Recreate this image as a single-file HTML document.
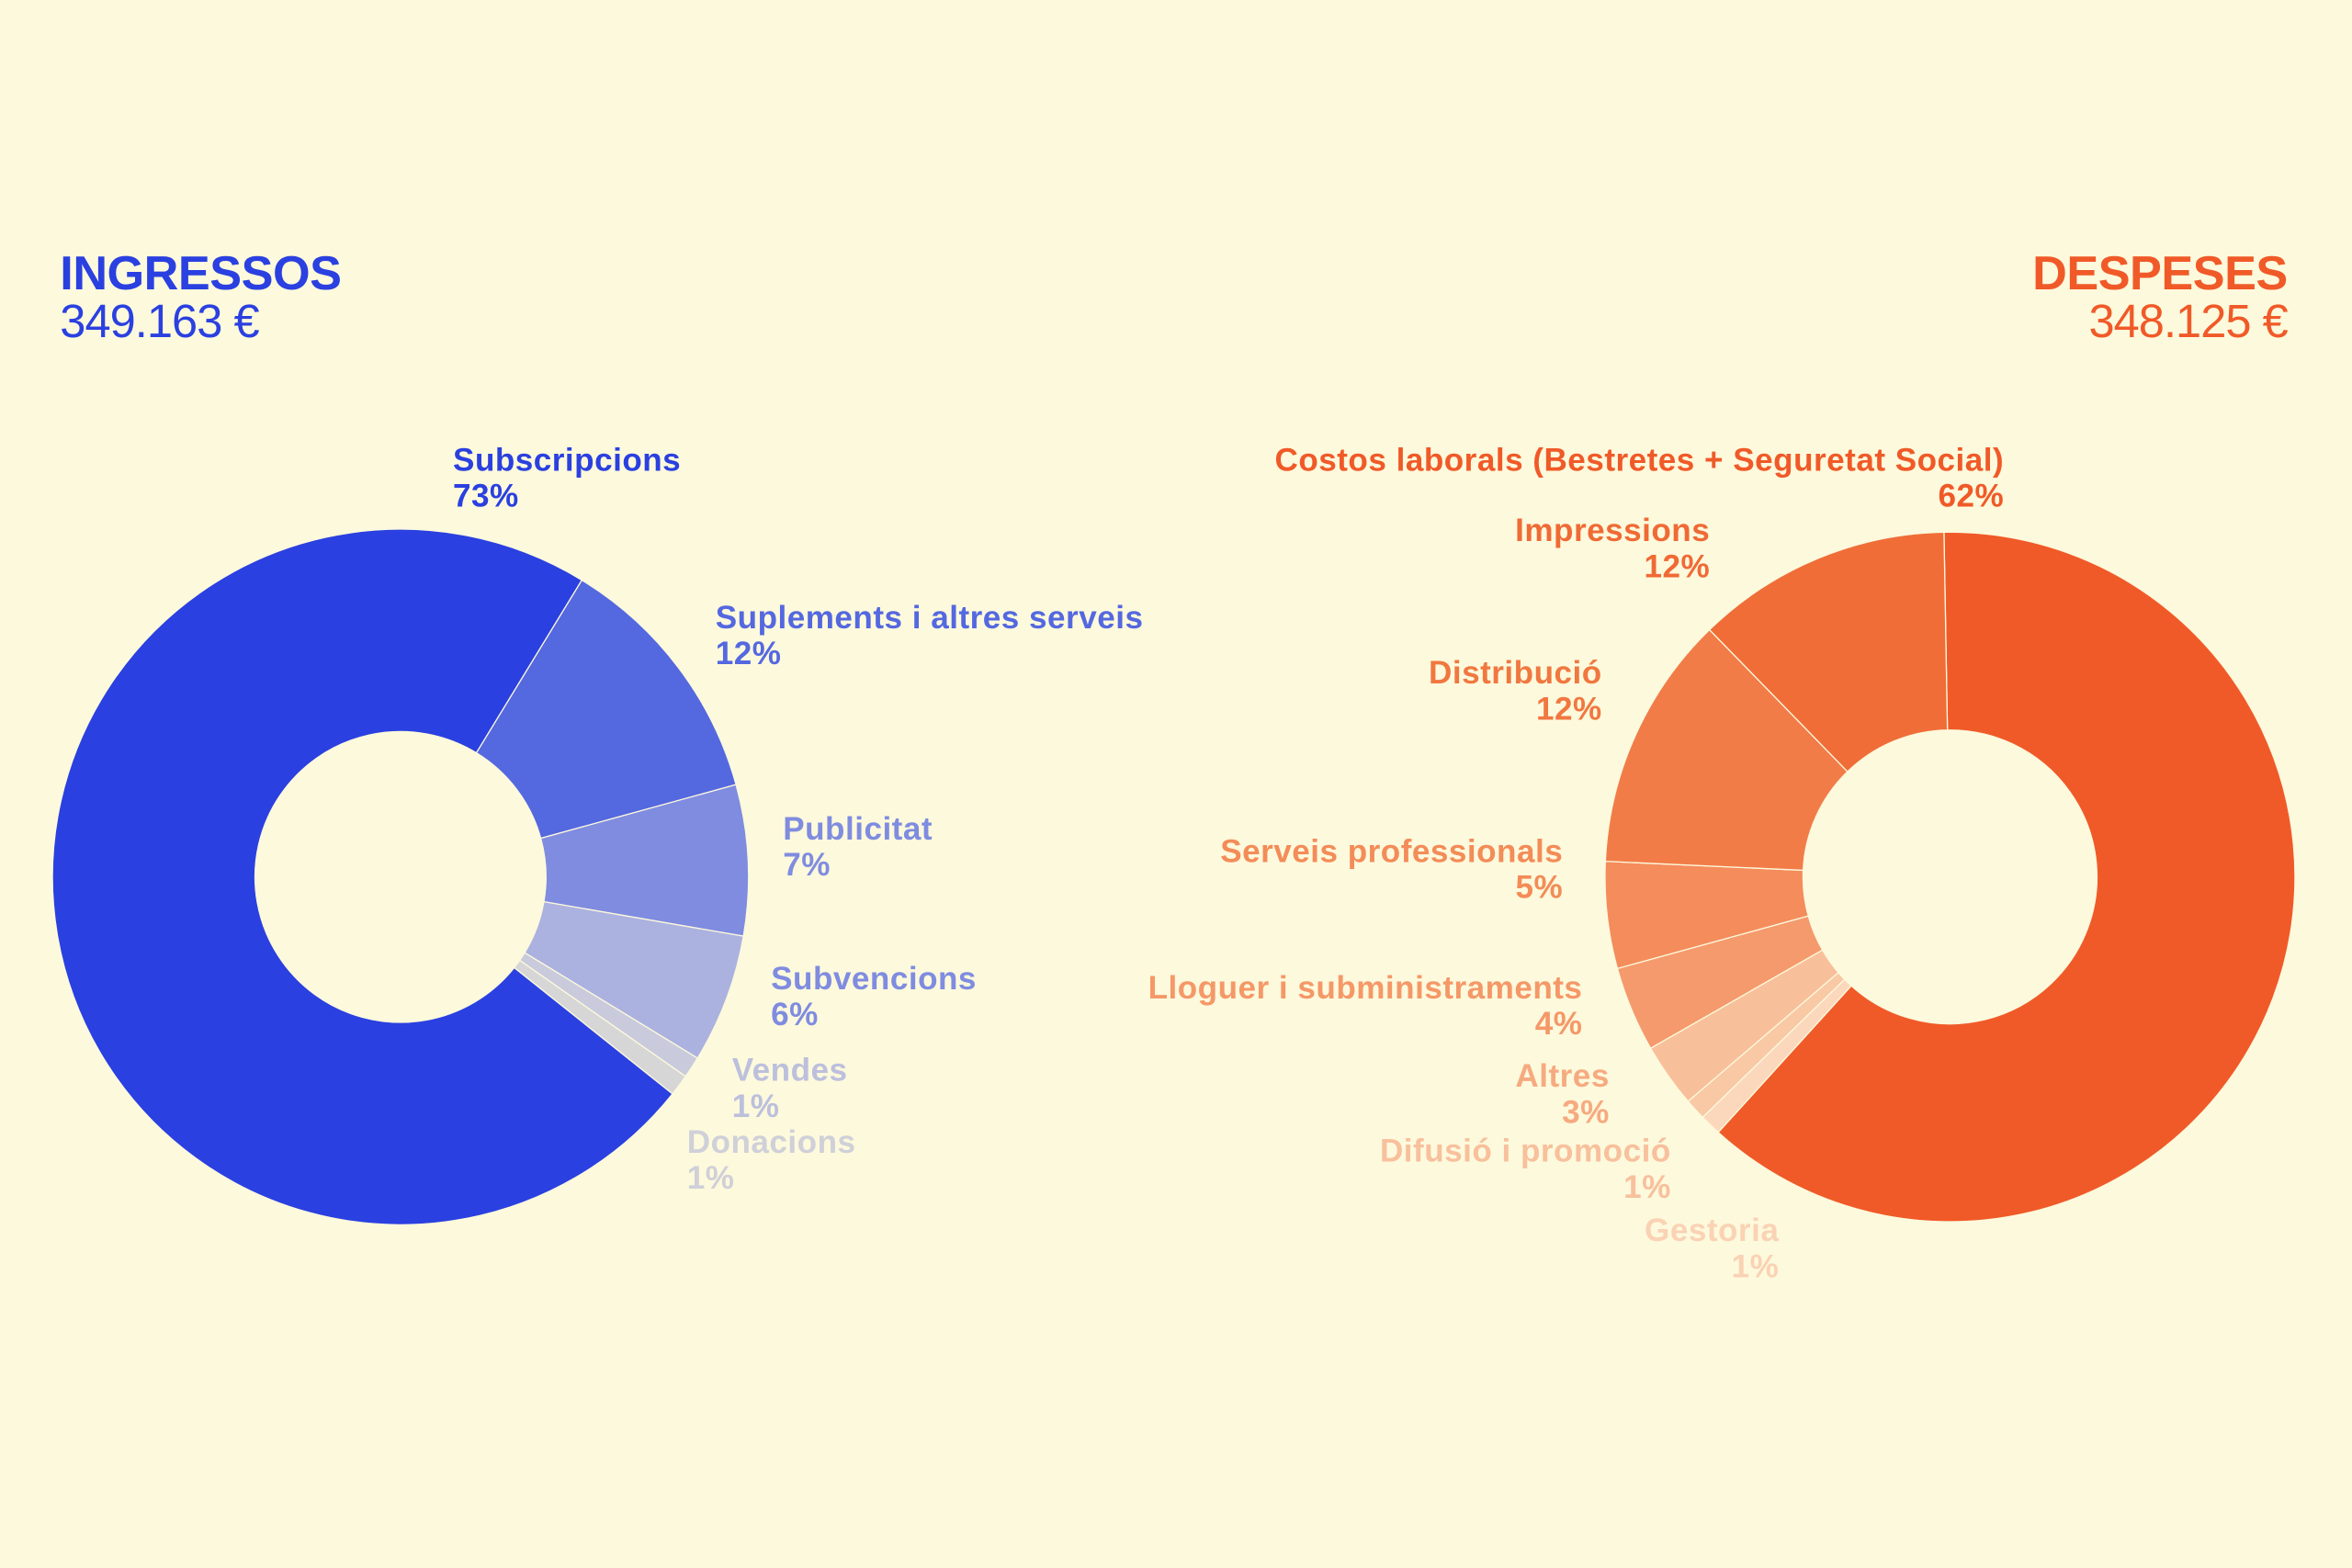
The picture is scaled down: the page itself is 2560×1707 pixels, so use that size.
<!DOCTYPE html>
<html><head><meta charset="utf-8"><style>
html,body{margin:0;padding:0;background:#fdf9dc;}
svg{display:block}
text{font-family:"Liberation Sans",sans-serif;font-weight:bold;font-size:21.5px;letter-spacing:0.3px}
</style></head><body>
<svg id="s" width="2560" height="1707" viewBox="0 0 1568 1046" preserveAspectRatio="none" xmlns="http://www.w3.org/2000/svg">
<rect width="1568" height="1046" fill="#fdf9dc"/>
<g id="L"></g><g id="R"></g>
<text x="40" y="193" fill="#2a40e0" style="font-size:32px;letter-spacing:-0.3px">INGRESSOS</text>
<text x="40" y="225" fill="#2a40e0" style="font-size:31px;font-weight:normal;letter-spacing:-0.6px">349.163 €</text>
<text x="1525" y="193" fill="#f05a28" text-anchor="end" style="font-size:32px;letter-spacing:-0.3px">DESPESES</text>
<text x="1525" y="225" fill="#f05a28" text-anchor="end" style="font-size:31px;font-weight:normal;letter-spacing:-0.6px">348.125 €</text>

<g fill="#2a40e0"><text x="302" y="314">Subscripcions</text><text x="302" y="338">73%</text></g>
<g fill="#5468e0"><text x="477" y="419">Suplements i altres serveis</text><text x="477" y="443">12%</text></g>
<g fill="#7f8ce0"><text x="522" y="560">Publicitat</text><text x="522" y="584">7%</text></g>
<g fill="#7f8ce0"><text x="514" y="660">Subvencions</text><text x="514" y="684">6%</text></g>
<g fill="#bcc0dc"><text x="488" y="721">Vendes</text><text x="488" y="745">1%</text></g>
<g fill="#cfd0d8"><text x="458" y="769">Donacions</text><text x="458" y="793">1%</text></g>

<g text-anchor="end">
<g fill="#f05a28"><text x="1336" y="314">Costos laborals (Bestretes + Seguretat Social)</text><text x="1336" y="338">62%</text></g>
<g fill="#f06a35"><text x="1140" y="361">Impressions</text><text x="1140" y="385">12%</text></g>
<g fill="#f07840"><text x="1068" y="456">Distribució</text><text x="1068" y="480">12%</text></g>
<g fill="#f38c58"><text x="1042" y="575">Serveis professionals</text><text x="1042" y="599">5%</text></g>
<g fill="#f59868"><text x="1055" y="666">Lloguer i subministraments</text><text x="1055" y="690">4%</text></g>
<g fill="#f6aa80"><text x="1073" y="725">Altres</text><text x="1073" y="749">3%</text></g>
<g fill="#f8c09c"><text x="1114" y="775">Difusió i promoció</text><text x="1114" y="799">1%</text></g>
<g fill="#fad2b4"><text x="1186" y="828">Gestoria</text><text x="1186" y="852">1%</text></g>
</g>
</svg>
<script>
function donut(id,cx,cy,R,r,start,parts){
  var g=document.getElementById(id),a=start,h='';
  parts.forEach(function(p){
    var b=a+p[0]*3.6;
    function pt(rad,ang){var t=(ang-90)*Math.PI/180;return (cx+rad*Math.cos(t)).toFixed(2)+' '+(cy+rad*Math.sin(t)).toFixed(2);}
    var lg=(b-a)>180?1:0;
    h+='<path d="M'+pt(R,a)+' A'+R+' '+R+' 0 '+lg+' 1 '+pt(R,b)+' L'+pt(r,b)+' A'+r+' '+r+' 0 '+lg+' 0 '+pt(r,a)+' Z" fill="'+p[1]+'" stroke="#fdf9dc" stroke-width="0.8"/>';
    a=b;
  });
  g.innerHTML=h;
}
donut('L',267,585,232,97,31.4,[[12,'#5468e0'],[7,'#7f8ce0'],[6,'#abb2e0'],[1,'#c9cbdc'],[1,'#d6d6d6'],[73,'#2a40e0']]);
donut('R',1300,585,230,98,-1,[[62,'#f05a28'],[1,'#fbd8bc'],[1,'#f9c8a4'],[3,'#f8c09a'],[4,'#f59a6c'],[5,'#f48c5c'],[12,'#f27c48'],[12,'#f06d38']]);
</script>
</body></html>
